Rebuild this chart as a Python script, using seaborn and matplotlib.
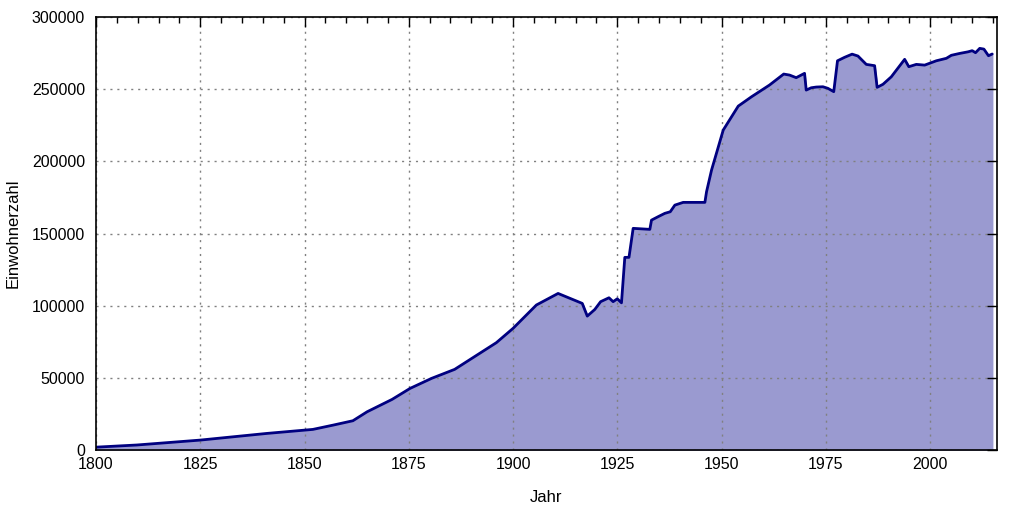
import numpy as np
import pandas as pd
import matplotlib
matplotlib.use("Agg")
import matplotlib.pyplot as plt
import seaborn as sns
from matplotlib.ticker import MultipleLocator

# Einwohnerzahl je Jahr
jahre = [1800, 1809.8, 1825, 1840.9, 1852, 1856.9, 1861.6, 1865, 1871, 1875.3, 1880.5,
         1886, 1896, 1900,
         1905.6, 1910.8, 1916.6, 1917.8, 1919.6, 1921, 1923, 1924, 1925, 1926,
         1926.8, 1927.8, 1928.8, 1932.8, 1933.2, 1934.8, 1936.4, 1937.7, 1938.8,
         1940.8, 1946, 1946.4, 1947.6, 1950.4, 1954, 1957.2, 1961.5, 1964.9,
         1966.3, 1967.9, 1969.9, 1970.3, 1971.5, 1972.7, 1974.3, 1975.5, 1976.9,
         1977.8, 1979.5, 1981.3, 1982.7, 1984.7, 1986.7, 1987.3, 1988.7, 1990.7,
         1993.9, 1994.9, 1996.7, 1998.7, 2001.5, 2003.9, 2005.1, 2007.1, 2009.1,
         2010.1, 2010.9, 2011.9, 2012.9, 2014, 2014.9]
einwohner = [2000, 3500, 6900, 11500, 14300, 17300, 20300, 26500, 35100, 42700, 49700,
             55900, 74400, 84300,
             100500, 108500, 101600, 92800, 97400, 102800, 105500, 102800, 104800, 102000,
             133500, 133500, 153600, 152900, 159300, 161700, 164000, 165100, 169700,
             171600, 171600, 179000, 194000, 221700, 238300, 244800, 252900, 260500,
             259800, 258000, 261000, 249400, 251000, 251500, 251700, 250600, 248300,
             269700, 272100, 274300, 273000, 267200, 266300, 251300, 253400, 258600,
             270700, 265600, 267200, 266700, 269700, 271400, 273500, 274800, 275900,
             276700, 275300, 278300, 277800, 273200, 274400]

df = pd.DataFrame({"Jahr": jahre, "Einwohnerzahl": einwohner})

sns.set_theme(style="white")
plt.rcParams["font.family"] = ["Liberation Sans", "DejaVu Sans"]

fig = plt.figure(figsize=(10.24, 5.12), dpi=100)
ax = fig.add_axes([0.09375, 0.121, 0.8797, 0.8457])

ax.fill_between(df["Jahr"], df["Einwohnerzahl"], color="#9a9ad0", zorder=1)
sns.lineplot(data=df, x="Jahr", y="Einwohnerzahl", color="#000080", linewidth=2,
             ax=ax, zorder=3)

ax.set_xlim(1800, 2016)
ax.set_ylim(0, 300000)
ax.xaxis.set_major_locator(MultipleLocator(25))
ax.xaxis.set_minor_locator(MultipleLocator(5))
ax.yaxis.set_major_locator(MultipleLocator(50000))

ax.grid(True, which="major", color="#808080", linestyle=(0, (1.5, 3.5)), linewidth=1, zorder=2)
ax.set_axisbelow(False)
for s in ax.spines.values():
    s.set_color("black")
    s.set_linewidth(1.2)
    s.set_zorder(4)

ax.tick_params(which="both", direction="in", top=True, right=True, colors="black",
               labelsize=11.5)
ax.tick_params(which="major", length=7, width=1)
ax.tick_params(which="minor", length=4, width=1)
ax.tick_params(axis="x", which="major", pad=5)
ax.tick_params(axis="y", which="major", pad=8)

ax.set_xlabel("Jahr", fontsize=12, labelpad=13, color="black")
ax.set_ylabel("Einwohnerzahl", fontsize=12, labelpad=8, color="black")

fig.savefig("out.png", dpi=100)
